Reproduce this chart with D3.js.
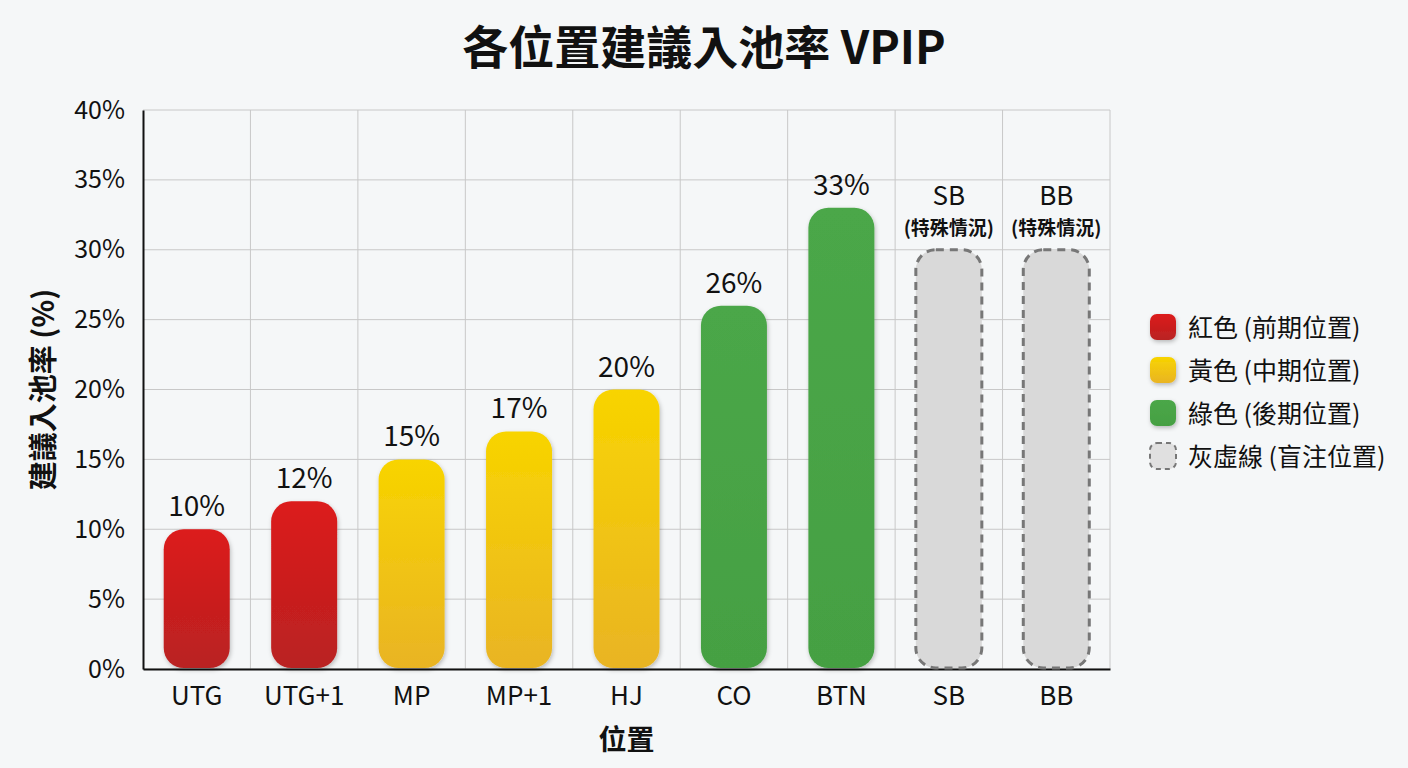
<!DOCTYPE html>
<html>
<head>
<meta charset="utf-8">
<script src="https://cdn.jsdelivr.net/npm/d3@7"></script>
<style>
  body { margin: 0; background: #f5f7f8; }
  text { font-family: "Noto Sans CJK TC", "Noto Sans", sans-serif; fill: #111; }
</style>
</head>
<body>
<script>
var positions = ['UTG', 'UTG+1', 'MP', 'MP+1', 'HJ', 'CO', 'BTN', 'SB', 'BB'];
var vpip = [10, 12, 15, 17, 20, 26, 33, 30, 30];
var groups = ['red', 'red', 'yellow', 'yellow', 'yellow', 'green', 'green', 'gray', 'gray'];
var yTicks = [0, 5, 10, 15, 20, 25, 30, 35, 40];
var legendLabels = ['紅色 (前期位置)', '黃色 (中期位置)', '綠色 (後期位置)', '灰虛線 (盲注位置)'];
var legendGroups = ['red', 'yellow', 'green', 'gray'];

var w = 1408, h = 768;
var mLeft = 143, mRight = 1110, mTop = 110, mBottom = 669;

var svg = d3.select('body').append('svg').attr('width', w).attr('height', h);
svg.append('rect').attr('width', w).attr('height', h).attr('fill', '#f5f7f8');

var defs = svg.append('defs');
var grads = { red: ['#dc1a1a', '#b92222'], yellow: ['#f8d400', '#e9b424'], green: ['#4ba748', '#45a043'] };
Object.keys(grads).forEach(function (k) {
  var g = defs.append('linearGradient').attr('id', 'g-' + k).attr('x1', 0).attr('x2', 0).attr('y1', 0).attr('y2', 1);
  g.append('stop').attr('offset', '0%').attr('stop-color', grads[k][0]);
  g.append('stop').attr('offset', '100%').attr('stop-color', grads[k][1]);
});
var f = defs.append('filter').attr('id', 'shadow').attr('x', '-20%').attr('y', '-20%').attr('width', '140%').attr('height', '140%');
f.append('feDropShadow').attr('dx', 1).attr('dy', 2).attr('stdDeviation', 2).attr('flood-color', '#000').attr('flood-opacity', 0.25);

var x = d3.scaleBand().domain(positions).range([mLeft, mRight]).paddingInner(0).paddingOuter(0);
var y = d3.scaleLinear().domain([0, 40]).range([mBottom, mTop]);

// grid
svg.append('g').selectAll('line').data(yTicks).enter().append('line')
  .attr('x1', mLeft).attr('x2', mRight)
  .attr('y1', function (d) { return y(d); }).attr('y2', function (d) { return y(d); })
  .attr('stroke', '#c8c8c8').attr('stroke-width', 1);
svg.append('g').selectAll('line').data(positions).enter().append('line')
  .attr('x1', function (d) { return x(d) + x.bandwidth(); })
  .attr('x2', function (d) { return x(d) + x.bandwidth(); })
  .attr('y1', mTop).attr('y2', mBottom)
  .attr('stroke', '#c8c8c8').attr('stroke-width', 1);

// y axis
var yAxis = svg.append('g').attr('transform', 'translate(' + mLeft + ',0)')
  .call(d3.axisLeft(y).tickValues(yTicks).tickSize(0).tickPadding(18).tickFormat(function (d) { return d + '%'; }));
yAxis.select('.domain').attr('stroke', '#111').attr('stroke-width', 2);
yAxis.selectAll('text').attr('font-size', 25).style('font-family', '"Noto Sans CJK TC", sans-serif').attr('fill', '#111');

// x axis
var xAxis = svg.append('g').attr('transform', 'translate(0,' + mBottom + ')')
  .call(d3.axisBottom(x).tickSize(0).tickPadding(18));
xAxis.select('.domain').attr('stroke', '#111').attr('stroke-width', 2);
xAxis.selectAll('text').attr('font-size', 26).style('font-family', '"Noto Sans CJK TC", sans-serif').attr('fill', '#111');

// bars
var barW = 66;
var data = positions.map(function (p, i) { return { pos: p, v: vpip[i], g: groups[i] }; });
svg.append('g').selectAll('rect').data(data).enter().append('rect')
  .attr('x', function (d) { return x(d.pos) + x.bandwidth() / 2 - barW / 2; })
  .attr('y', function (d) { return y(d.v); })
  .attr('width', barW)
  .attr('height', function (d) { return y(0) - y(d.v) - 1; })
  .attr('rx', 20).attr('ry', 20)
  .attr('fill', function (d) { return d.g == 'gray' ? '#d9d9d9' : 'url(#g-' + d.g + ')'; })
  .attr('stroke', function (d) { return d.g == 'gray' ? '#777' : 'none'; })
  .attr('stroke-width', 3)
  .attr('stroke-dasharray', function (d) { return d.g == 'gray' ? '8,6' : null; })
  .attr('filter', function (d) { return d.g == 'gray' ? null : 'url(#shadow)'; });

// value labels
svg.append('g').selectAll('text').data(data.filter(function (d) { return d.g != 'gray'; })).enter().append('text')
  .attr('x', function (d) { return x(d.pos) + x.bandwidth() / 2; })
  .attr('y', function (d) { return y(d.v) - 13; })
  .attr('text-anchor', 'middle').attr('font-size', 28)
  .text(function (d) { return d.v + '%'; });

var blinds = data.filter(function (d) { return d.g == 'gray'; });
svg.append('g').selectAll('text').data(blinds).enter().append('text')
  .attr('x', function (d) { return x(d.pos) + x.bandwidth() / 2; })
  .attr('y', function (d) { return y(d.v) - 45; })
  .attr('text-anchor', 'middle').attr('font-size', 26)
  .text(function (d) { return d.pos; });
svg.append('g').selectAll('text').data(blinds).enter().append('text')
  .attr('x', function (d) { return x(d.pos) + x.bandwidth() / 2; })
  .attr('y', function (d) { return y(d.v) - 15; })
  .attr('text-anchor', 'middle').attr('font-size', 19).attr('font-weight', 'bold')
  .text('(特殊情況)');

// titles
svg.append('text').attr('x', 704).attr('y', 64).attr('text-anchor', 'middle')
  .attr('font-size', 46).attr('font-weight', 'bold').text('各位置建議入池率 VPIP');
svg.append('text').attr('transform', 'translate(54,' + ((mTop + mBottom) / 2) + ') rotate(-90)')
  .attr('text-anchor', 'middle').attr('font-size', 29).attr('font-weight', 'bold').text('建議入池率 (%)');
svg.append('text').attr('x', (mLeft + mRight) / 2).attr('y', 750).attr('text-anchor', 'middle')
  .attr('font-size', 28).attr('font-weight', 'bold').text('位置');

// legend
var leg = svg.append('g').selectAll('g').data(legendLabels).enter().append('g')
  .attr('transform', function (d, i) { return 'translate(1150,' + (314 + i * 43) + ')'; });
leg.append('rect').attr('width', 26).attr('height', 26).attr('rx', 7)
  .attr('fill', function (d, i) { return legendGroups[i] == 'gray' ? '#e0e0e0' : 'url(#g-' + legendGroups[i] + ')'; })
  .attr('stroke', function (d, i) { return legendGroups[i] == 'gray' ? '#777' : 'none'; })
  .attr('stroke-width', 2)
  .attr('stroke-dasharray', function (d, i) { return legendGroups[i] == 'gray' ? '5,4' : null; })
  .attr('filter', function (d, i) { return legendGroups[i] == 'gray' ? null : 'url(#shadow)'; });
leg.append('text').attr('x', 38).attr('y', 23).attr('font-size', 25).text(function (d) { return d; });
</script>
</body>
</html>
